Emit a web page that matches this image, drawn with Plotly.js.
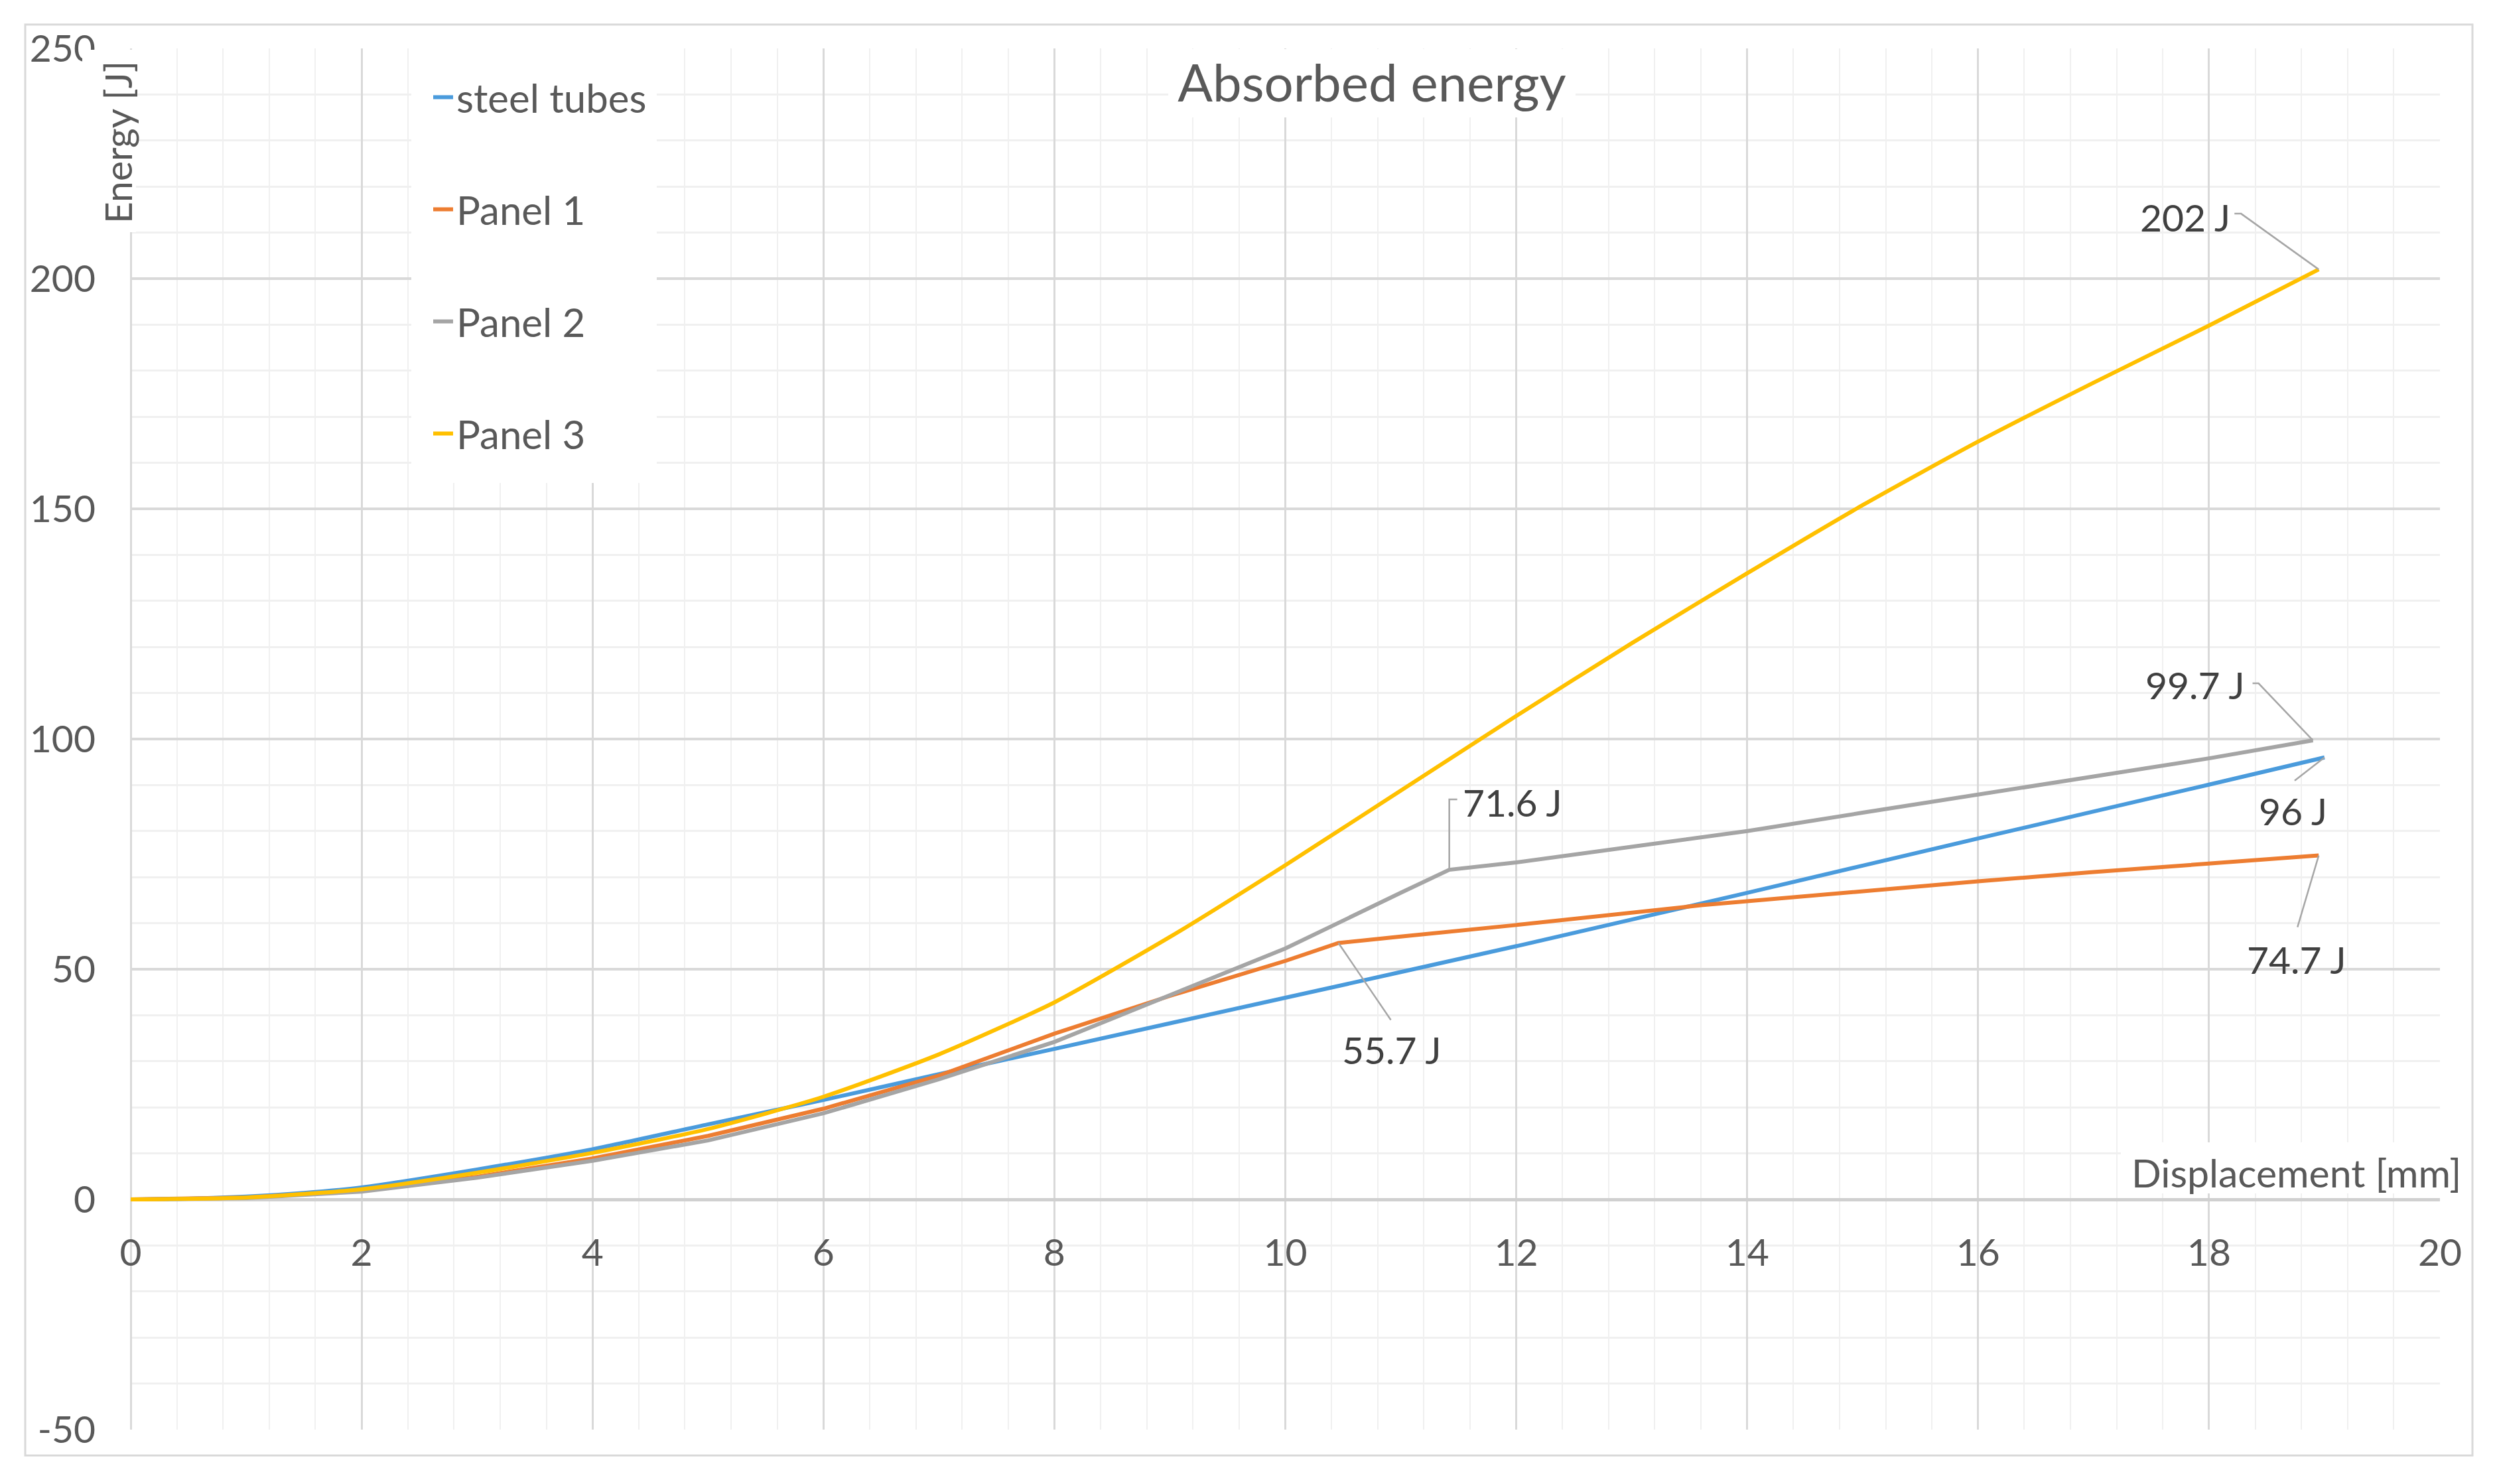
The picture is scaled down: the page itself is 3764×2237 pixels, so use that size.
<!DOCTYPE html>
<html>
<head>
<meta charset="utf-8">
<script src="https://cdn.plot.ly/plotly-3.0.1.min.js"></script>
<style>
html,body{margin:0;padding:0;background:#ffffff;}
#chart{width:3764px;height:2237px;}
</style>
</head>
<body>
<div id="chart"></div>
<script>
// ---------- data ----------
const seriesNames = ['steel tubes', 'Panel 1', 'Panel 2', 'Panel 3'];

const dispSteel   = [0, 0.5, 1, 1.5, 2, 3, 4, 5, 6, 7, 8, 10, 12, 14, 16, 18, 19];
const energySteel = [0, 0.15, 0.6, 1.4, 2.6, 6.5, 10.9, 16.3, 21.6, 27.2, 32.7, 43.8, 55.0, 66.6, 78.4, 90.1, 96];

const dispPanel1   = [0, 1, 2, 3, 4, 5, 6, 7, 8, 9, 10, 10.46, 11, 12, 13.6, 15, 16, 17, 18, 18.95];
const energyPanel1 = [0, 0.4, 1.9, 4.9, 8.9, 13.8, 19.7, 26.9, 36.0, 44.2, 51.8, 55.7, 57.1, 59.6, 63.9, 67.0, 69.1, 71.1, 73.0, 74.7];

const dispPanel2   = [0, 1, 2, 3, 4, 5, 6, 7, 8, 9, 10, 11, 11.42, 12, 12.66, 13.07, 14, 15, 16, 17, 18, 18.9];
const energyPanel2 = [0, 0.3, 1.7, 4.7, 8.4, 12.8, 18.7, 26.1, 34.2, 44.3, 54.5, 66.6, 71.6, 73.2, 75.4, 76.7, 80.0, 84.0, 88.0, 91.9, 95.8, 99.7];

const dispPanel3   = [0, 1, 2, 3, 4, 5, 6, 7, 8, 9, 10, 11, 12, 13, 14, 15, 16, 17, 18, 18.95];
const energyPanel3 = [0, 0.4, 2.2, 5.8, 10.1, 15.3, 22.3, 31.5, 42.8, 57.0, 72.6, 88.8, 105.0, 120.8, 136.0, 150.8, 164.6, 177.4, 189.8, 202];

const xTickVals = [0, 2, 4, 6, 8, 10, 12, 14, 16, 18, 20];
const yTickVals = [-50, 0, 50, 100, 150, 200, 250];
const yTickText = ['-50', '0', '50', '100', '150', '200', '250'];

const chartTitle = 'Absorbed energy';
const xTitle = 'Displacement [mm]';
const yTitle = 'Energy [J]';
const unitSuffix = ' J';

// ---------- styling ----------
const colors = ['#4A9BDC', '#ED7D31', '#A5A5A5', '#FFC000'];
const shapesOfLine = ['spline', 'linear', 'linear', 'spline'];
const FONT = 'Lato, "Open Sans", "DejaVu Sans", sans-serif';
const TXT = '#595959';
const W = 3764, H = 2237;
const L = 197, R = 3678, T = 73, B = 2155;
const px = p => (p - L) / (R - L);
const py = p => (B - p) / (B - T);

const xs = [dispSteel, dispPanel1, dispPanel2, dispPanel3];
const ys = [energySteel, energyPanel1, energyPanel2, energyPanel3];

const traces = seriesNames.map((n, i) => ({
  type: 'scatter', mode: 'lines', name: n, legendgroup: n,
  x: xs[i], y: ys[i],
  line: {color: colors[i], width: 6, shape: shapesOfLine[i], smoothing: 0.6},
  hoverinfo: 'skip'
}));

function whiteBox(x0, y0, x1, y1, layer) {
  return {type: 'rect', xref: 'paper', yref: 'paper',
    x0: px(x0), x1: px(x1), y0: py(y1), y1: py(y0),
    fillcolor: '#ffffff', line: {width: 0}, layer: layer || 'above'};
}

const shapes = [
  // outer chart border
  {type: 'rect', xref: 'paper', yref: 'paper',
   x0: px(38), x1: px(3727), y0: py(2194), y1: py(37),
   line: {color: '#d9d9d9', width: 3}, fillcolor: 'rgba(0,0,0,0)', layer: 'below'},
  whiteBox(1761, 74, 2375, 177),   // title box
  whiteBox(620, 73, 990, 728),     // legend box
  whiteBox(124, 75, 205, 350),     // y title box
  whiteBox(3197, 1722, R, 1799)    // x title box
];

// data labels with leader lines (anchored to data points)
const lastIdx = a => a.length - 1;
const kink1 = dispPanel1.indexOf(10.46);
const kink2 = dispPanel2.indexOf(11.42);
const labelPts = [
  {x: dispPanel3[lastIdx(dispPanel3)], y: energyPanel3[lastIdx(energyPanel3)], dx: -201, dy: 79,  path: 'M -127 84 L -117 84 L 0 0'},
  {x: dispPanel2[lastIdx(dispPanel2)], y: energyPanel2[lastIdx(energyPanel2)], dx: -178, dy: 84,  path: 'M -91 86 L -82 86 L 0 0'},
  {x: dispSteel[lastIdx(dispSteel)],   y: energySteel[lastIdx(energySteel)],   dx: -47,  dy: -80, path: 'M -45 -35 L 0 0'},
  {x: dispPanel1[lastIdx(dispPanel1)], y: energyPanel1[lastIdx(energyPanel1)], dx: -33,  dy: -156,path: 'M -32 -108 L 0 0'},
  {x: dispPanel2[kink2], y: energyPanel2[kink2], dx: 95, dy: 102, path: 'M 12 106 L 0 106 L 0 0'},
  {x: dispPanel1[kink1], y: energyPanel1[kink1], dx: 80, dy: -161, path: 'M 79 -116 L 0 0'}
];

labelPts.forEach(p => {
  shapes.push({type: 'path', xref: 'x', yref: 'y', xsizemode: 'pixel', ysizemode: 'pixel',
    xanchor: p.x, yanchor: p.y, path: p.path,
    line: {color: '#A6A6A6', width: 2.5}, layer: 'above'});
});

const annotations = labelPts.map(p => ({
  x: p.x, y: p.y, xref: 'x', yref: 'y', text: String(p.y) + unitSuffix,
  showarrow: false, xshift: p.dx, yshift: p.dy,
  xanchor: 'center', yanchor: 'middle',
  font: {family: FONT, size: 57, color: '#404040'}
}));

annotations.push({
  xref: 'paper', yref: 'paper', x: px(177), y: py(215), text: yTitle, textangle: -90,
  showarrow: false, xanchor: 'center', yanchor: 'middle',
  font: {family: FONT, size: 57, color: TXT}
});
annotations.push({
  xref: 'paper', yref: 'paper', x: px(3712), y: py(1767), text: xTitle,
  showarrow: false, xanchor: 'right', yanchor: 'middle',
  font: {family: FONT, size: 59, color: TXT}
});

const layout = {
  width: W, height: H,
  paper_bgcolor: '#ffffff', plot_bgcolor: '#ffffff',
  margin: {l: L, r: W - R, t: T, b: H - B, pad: 0},
  font: {family: FONT, size: 57, color: TXT},
  title: {text: chartTitle, xref: 'paper', yref: 'paper', x: px(2068), y: py(126),
          xanchor: 'center', yanchor: 'middle',
          font: {family: FONT, size: 78, color: TXT}},
  showlegend: true,
  legend: {x: px(648), y: py(101), xanchor: 'left', yanchor: 'top',
           bgcolor: 'rgba(0,0,0,0)', borderwidth: 0,
           tracegroupgap: 88, font: {family: FONT, size: 60, color: TXT}},
  xaxis: {
    range: [0, 20], tickmode: 'array', tickvals: xTickVals,
    anchor: 'free', position: 50 / 300,
    showline: false, ticks: '', ticklabelstandoff: 42,
    showgrid: true, gridcolor: '#d9d9d9', gridwidth: 3,
    zeroline: true, zerolinecolor: '#d9d9d9', zerolinewidth: 3,
    minor: {dtick: 0.4, tick0: 0, showgrid: true, gridcolor: '#f0f0f0', gridwidth: 2},
    tickfont: {family: FONT, size: 57, color: TXT}
  },
  yaxis: {
    range: [-50, 250], tickmode: 'array', tickvals: yTickVals, ticktext: yTickText,
    showline: false, ticks: '', ticklabelstandoff: 52,
    showgrid: true, gridcolor: '#d9d9d9', gridwidth: 4,
    zeroline: true, zerolinecolor: '#d0d0d0', zerolinewidth: 5,
    minor: {dtick: 10, tick0: 0, showgrid: true, gridcolor: '#f0f0f0', gridwidth: 3},
    tickfont: {family: FONT, size: 57, color: TXT}
  },
  shapes: shapes,
  annotations: annotations
};

Plotly.newPlot('chart', traces, layout, {staticPlot: true, displayModeBar: false});
</script>
</body>
</html>
